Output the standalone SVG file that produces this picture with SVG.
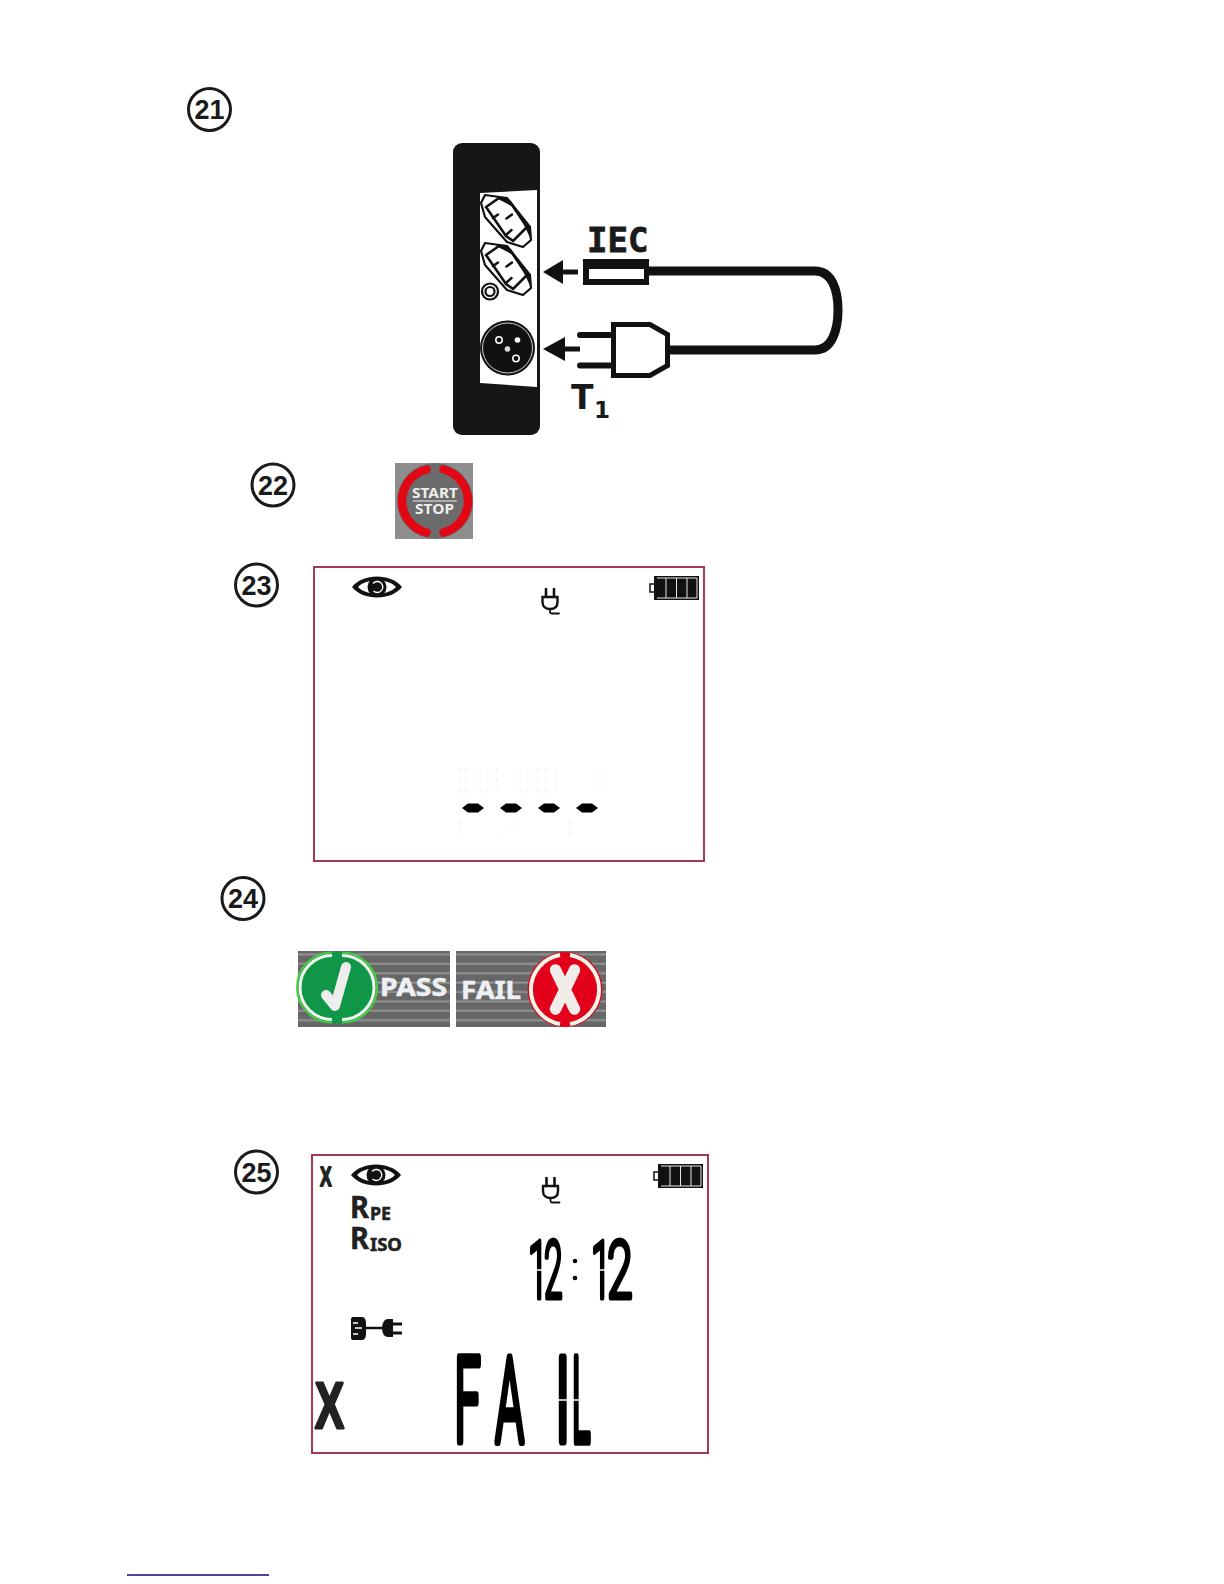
<svg xmlns="http://www.w3.org/2000/svg" xmlns:xlink="http://www.w3.org/1999/xlink" width="1224" height="1584" viewBox="0 0 1224 1584">
<style>
.num{font-family:"Liberation Sans",Arial,sans-serif;font-weight:700;font-size:27px;fill:#1a1a1a;text-anchor:middle}
.ring{fill:#fff;stroke:#1a1a1a;stroke-width:3}
.lcd{fill:#fff;stroke:#a63a50;stroke-width:2}
.ic{fill:none;stroke:#111;stroke-linecap:round}
.seg{font-family:Roboto,"Liberation Sans",sans-serif;font-weight:300;fill:#000;stroke:#000;vector-effect:non-scaling-stroke;stroke-linejoin:round}
.rb{font-family:"Noto Sans","Liberation Sans",sans-serif;font-weight:700;fill:#222;stroke:#222;stroke-width:.5}
.ghost{fill:none;stroke:#eeeeee;stroke-width:1;stroke-dasharray:5 5}
.btn{font-family:"Noto Sans","Liberation Sans",sans-serif;font-weight:700;fill:#eee;font-size:14px}
.res{font-family:"Noto Sans","Liberation Sans",sans-serif;font-weight:700;fill:#eef0f5;font-size:25px;stroke:#eef0f5;stroke-width:.5}
.gap{fill:none;stroke:#fff;stroke-width:1.600}
</style>
<defs>
<pattern id="st" width="10" height="9.400" patternUnits="userSpaceOnUse" y="951">
<rect width="10" height="9.400" fill="#676767"/><rect y="2.500" width="10" height="1.800" fill="#979797"/>
</pattern>
<g id="eye">
<path d="M-25 0C-14-14 14-14 25 0C14 14-14 14-25 0Z" fill="#111"/>
<path d="M-19 0C-11-9 11-9 19 0C11 9-11 9-19 0Z" fill="#fff"/>
<circle r="9.500" fill="#111"/>
<path d="M-4-3.500A5.500 5.500 0 1 1-3.500 4" fill="none" stroke="#fff" stroke-width="1.400"/>
<circle r="3.200" fill="#111"/>
</g>
<g id="mains">
<path d="M-4 0V8M4 0V8" class="ic" stroke-width="2.600" stroke-linecap="butt"/>
<path d="M-7.500 8H7.500V13C7.500 18 4 20 0 20C-4 20-7.500 18-7.500 13Z" fill="none" stroke="#111" stroke-width="2.400"/>
<path d="M0 20V23C0 24 1 24.500 2 24.500H9" class="ic" stroke-width="1.800"/>
</g>
<g id="batt">
<rect x="-4" y="8" width="5" height="8" fill="#fff" stroke="#111" stroke-width="1.500"/>
<rect x="0" y="0" width="45" height="24" fill="#111"/>
<path d="M3 2H43V22H3M12 2V22M22.500 2V22M33 2V22" fill="none" stroke="#fff" stroke-width=".9"/>
</g>
<g id="socket">
<path d="M481 203L485 195L507 198L530 227L531 240L523 247L507 242L485 217Z" fill="#fff" stroke="#111" stroke-width="2.200" stroke-linejoin="round"/>
<path d="M486 207L499 198L510 202L527 227L513 241L506 236Z" fill="#fff" stroke="#111" stroke-width="2.600" stroke-linejoin="round"/>
<path d="M495 196L507 198L515 208L500 200ZM520 217L530 227L531 240L526 229Z" fill="#111"/>
<path d="M493 218L498 214.500M506.500 218.500L512 214.500M506 235L511.500 230" class="ic" stroke-width="2.500"/>
</g>
</defs>

<g id="step-21"><circle class="ring" cx="209.500" cy="109.500" r="21"/><text class="num" x="209.500" y="119">21</text></g>
<g id="step-22"><circle class="ring" cx="273" cy="485" r="21"/><text class="num" x="273" y="494.500">22</text></g>
<g id="step-23"><circle class="ring" cx="256.500" cy="585" r="21"/><text class="num" x="256.500" y="594.500">23</text></g>
<g id="step-24"><circle class="ring" cx="243" cy="898.500" r="21"/><text class="num" x="243" y="908">24</text></g>
<g id="step-25"><circle class="ring" cx="256.500" cy="1172" r="21"/><text class="num" x="256.500" y="1181.500">25</text></g>

<g id="tester-panel">
<rect x="453" y="143" width="87" height="292" rx="9" fill="#161616"/>
<path d="M480 193L537 190V387L480 383Z" fill="#fff"/>
<use xlink:href="#socket" href="#socket"/>
<use xlink:href="#socket" href="#socket" y="48"/>
<circle cx="490" cy="291.500" r="8" fill="#fff" stroke="#111" stroke-width="2.200"/>
<circle cx="490" cy="291.500" r="4.500" fill="#fff" stroke="#111" stroke-width="2.200"/>
<circle cx="507.500" cy="348" r="27.500" fill="#111"/>
<circle cx="507.500" cy="348" r="25" fill="none" stroke="#fff" stroke-width=".8"/>
<circle cx="499" cy="340" r="3.200" fill="none" stroke="#fff" stroke-width="1.500"/>
<circle cx="517.500" cy="340" r="2.800" fill="#fff"/>
<circle cx="516" cy="358.500" r="3.200" fill="none" stroke="#fff" stroke-width="1.500"/>
<circle cx="507.500" cy="349" r="2.800" fill="#ddd"/>
</g>

<g id="iec-connector">
<rect x="583" y="259" width="66" height="26" fill="#111"/>
<rect x="589" y="269" width="55" height="10" fill="#fff"/>
<text x="587" y="252" font-family="'DejaVu Sans Mono',monospace" font-weight="700" font-size="34" stroke="#1a1a1a" stroke-width=".8" fill="#1a1a1a">IEC</text>
</g>
<g id="t1-plug">
<path d="M580 335H612M580 365.500H612" class="ic" stroke-width="6"/>
<path d="M613.500 324.500H650L667.500 334.500V365.500L650 375.500H613.500Z" fill="#fff" stroke="#111" stroke-width="5"/>
<text x="571" y="409" font-family="'DejaVu Sans',sans-serif" font-weight="700" font-size="33" fill="#1a1a1a">T</text>
<text x="594" y="418" font-family="'DejaVu Sans',sans-serif" font-weight="700" font-size="23" fill="#1a1a1a">1</text>
</g>
<g id="connectors">
<path d="M649 271H815C832 271 838 290 838 310C838 330 832 350 815 350H670" fill="none" stroke="#111" stroke-width="9"/>
<path d="M578 272H560" stroke="#111" stroke-width="5"/>
<path d="M543 272L563 260V284Z" fill="#111"/>
<path d="M580 349H562" stroke="#111" stroke-width="5"/>
<path d="M543 349L565 337V361Z" fill="#111"/>
</g>

<g id="start-stop">
<rect x="395" y="463" width="78" height="76" fill="#8e8e8e"/>
<circle cx="435" cy="501" r="38" fill="#6b6b6b"/>
<path d="M426.500 469.500A32.500 32.500 0 0 0 426.500 532.500M443.500 469.500A32.500 32.500 0 0 1 443.500 532.500" fill="none" stroke="#e30613" stroke-width="8.500" stroke-linecap="round"/>
<text class="btn" x="412" y="498" textLength="46" lengthAdjust="spacingAndGlyphs">START</text>
<rect x="413" y="500.500" width="44" height="1" fill="#eee"/>
<text class="btn" x="415" y="514" textLength="39" lengthAdjust="spacingAndGlyphs">STOP</text>
</g>

<g id="lcd-23">
<rect class="lcd" x="314" y="567" width="390" height="294"/>
<use xlink:href="#eye" href="#eye" x="377" y="587"/>
<use xlink:href="#mains" href="#mains" x="550" y="589"/>
<use xlink:href="#batt" href="#batt" x="654" y="576"/>
<path class="ghost" d="M459 768V795M466 768V795M480 768V795M488 768V795M497 768V790M520 768V795M528 768V795M538 768V795M546 768V795M556 768V790M600 768V795M459 820V835M520 822L500 838M570 820V835"/>
<path d="M462 808L468 803.500H478L484 808L478 812.500H468ZM500 808L506 803.500H516L522 808L516 812.500H506ZM538 808L544 803.500H554L560 808L554 812.500H544ZM576 808L582 803.500H592L598 808L592 812.500H582Z" fill="#000"/>
</g>

<g id="pass-badge">
<rect x="298" y="951" width="152" height="76" fill="url(#st)"/>
<circle cx="337" cy="987.500" r="36" fill="#0f9646"/>
<path d="M332 952.500A35 35 0 0 0 332 1022.500M342 952.500A35 35 0 0 1 342 1022.500" fill="none" stroke="#3ad63a" stroke-width="2"/>
<path d="M332 955.500A32 32 0 0 0 332 1019.500M342 955.500A32 32 0 0 1 342 1019.500" fill="none" stroke="#eef5ee" stroke-width="3"/>
<path d="M326 995L335 1006L346 967" fill="none" stroke="#eeeeee" stroke-width="10" stroke-linecap="round" stroke-linejoin="round"/>
<text class="res" x="380" y="996" textLength="67" lengthAdjust="spacingAndGlyphs">PASS</text>
</g>
<g id="fail-badge">
<rect x="456" y="951" width="150" height="76" fill="url(#st)"/>
<circle cx="565" cy="989.500" r="37.500" fill="#e2001a"/>
<path d="M560 955A35 35 0 0 0 560 1024M570 955A35 35 0 0 1 570 1024" fill="none" stroke="#eef5e6" stroke-width="4"/>
<path d="M555.500 970L574.500 1009M574.500 970L555.500 1009" fill="none" stroke="#f0ece8" stroke-width="11.500" stroke-linecap="round"/>
<text class="res" x="461" y="999" textLength="60" lengthAdjust="spacingAndGlyphs">FAIL</text>
</g>

<g id="lcd-25">
<rect class="lcd" x="312" y="1155" width="396" height="298"/>
<text transform="translate(320 1186) scale(.62 1)" font-family="'Liberation Sans',sans-serif" font-weight="700" font-size="28" stroke="#222" stroke-width="1.800" stroke-linejoin="round" fill="#222">X</text>
<use xlink:href="#eye" href="#eye" x="376" y="1175"/>
<use xlink:href="#mains" href="#mains" x="550.500" y="1178"/>
<use xlink:href="#batt" href="#batt" x="658" y="1164"/>
<text class="rb" x="350" y="1218" font-size="30" textLength="19" lengthAdjust="spacingAndGlyphs">R</text>
<text class="rb" x="370" y="1220" font-size="18" textLength="21" lengthAdjust="spacingAndGlyphs">PE</text>
<text class="rb" x="350" y="1249" font-size="30" textLength="19" lengthAdjust="spacingAndGlyphs">R</text>
<text class="rb" x="370" y="1251" font-size="18" textLength="32" lengthAdjust="spacingAndGlyphs">ISO</text>
<g id="mains-lead">
<path d="M351 1319C351 1318 352 1317 353 1317H362C365 1317 366 1320 366 1324V1333C366 1337 365 1340 362 1340H353C352 1340 351 1339 351 1338Z" fill="#111"/>
<path d="M353 1323H358M355 1328H362M353 1334H358" stroke="#fff" stroke-width="1.500"/>
<path d="M366 1328H384" stroke="#111" stroke-width="2.500"/>
<path d="M393 1319H388C384 1319 382 1324 382 1328C382 1333 384 1337 388 1337H393Z" fill="#111"/>
<path d="M392 1324H402M392 1333H402" stroke="#111" stroke-width="3"/>
</g>
<g id="clock">
<text class="seg" transform="translate(528 1298) scale(.45 1)" font-size="80" stroke-width="4">1</text>
<text class="seg" transform="translate(544 1298) scale(.42 1)" font-size="80" stroke-width="4">2</text>
<circle cx="575" cy="1261" r="2.300" fill="#000"/><circle cx="575" cy="1278" r="2.300" fill="#000"/>
<text class="seg" transform="translate(591 1298) scale(.45 1)" font-size="80" stroke-width="4">1</text>
<text class="seg" transform="translate(607 1298) scale(.58 1)" font-size="80" stroke-width="4">2</text>
<path class="gap" d="M530 1270H544M593 1270H607"/>
</g>
<text transform="translate(315 1428) scale(.68 1)" font-family="'Liberation Sans',sans-serif" font-weight="700" font-size="64" stroke="#222" stroke-width="3" stroke-linejoin="round" fill="#222">X</text>
<g id="fail-readout">
<text class="seg" transform="translate(454.500 1441) scale(.4 1)" font-size="116" stroke-width="7">F</text>
<text class="seg" transform="translate(495.500 1441) scale(.39 1)" font-size="116" stroke-width="7">A</text>
<text class="seg" transform="translate(555 1441) scale(.5 1)" font-size="116" stroke-width="7">I</text>
<text class="seg" transform="translate(572 1441) scale(.3 1)" font-size="116" stroke-width="7">L</text>
<path class="gap" d="M554 1400H590"/>
</g>
</g>

<path id="footnote-rule" d="M127 1575H269" stroke="#0a0a80" stroke-width="1.500"/>
</svg>
